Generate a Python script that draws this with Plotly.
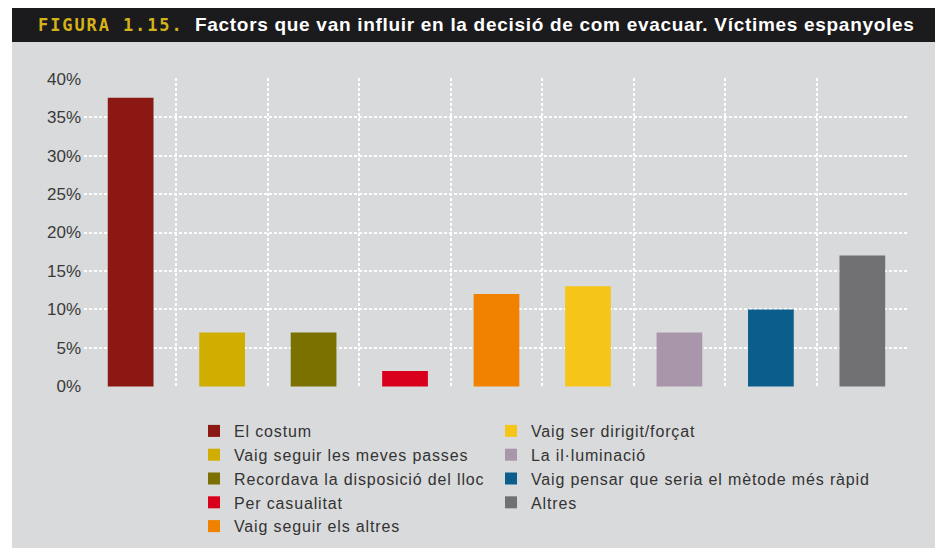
import plotly.graph_objects as go

categories = [
    "El costum",
    "Vaig seguir les meves passes",
    "Recordava la disposició del lloc",
    "Per casualitat",
    "Vaig seguir els altres",
    "Vaig ser dirigit/forçat",
    "La il·luminació",
    "Vaig pensar que seria el mètode més ràpid",
    "Altres",
]
values = [37.5, 7, 7, 2, 12, 13, 7, 10, 17]
colors = ["#8B1813", "#D0AE00", "#7B7100", "#D8001B", "#F08200",
          "#F5C518", "#AA96AB", "#0B5E8C", "#717173"]
y_ticks = [0, 5, 10, 15, 20, 25, 30, 35, 40]
y_tick_labels = ["0%", "5%", "10%", "15%", "20%", "25%", "30%", "35%", "40%"]

# page offset (body margin of the html page)
OFF = 8
PW, PH = 943, 548
W, H = PW - OFF, PH - OFF
L, R, T, B = 84, 909, 78, 387  # plot area in page pixels


def px(x):
    return (x - L) / (R - L)


def py(y):
    return (B - y) / (B - T)


fig = go.Figure()
for i, (c, v, col) in enumerate(zip(categories, values, colors)):
    fig.add_trace(go.Bar(
        x=[c], y=[v],
        name='<span style="letter-spacing:0.85px">' + c + "</span>",
        marker=dict(color=col, line=dict(width=0)),
        width=0.5, legend="legend" if i < 5 else "legend2",
        hovertemplate=c + ": %{y}%<extra></extra>",
    ))

gray = "#D9DADB"
shapes = [
    dict(type="rect", xref="paper", yref="paper", x0=px(0), x1=px(PW + 5), y0=py(0), y1=py(PH + 5),
         fillcolor="white", line_width=0, layer="below"),
    dict(type="rect", xref="paper", yref="paper", x0=px(12), x1=px(PW + 5), y0=py(42), y1=py(PH + 5),
         fillcolor=gray, line_width=0, layer="below"),
    dict(type="rect", xref="paper", yref="paper", x0=px(12), x1=px(PW + 5), y0=py(0), y1=py(42),
         fillcolor="#1B1A1C", line_width=0, layer="below"),
]

annotations = [
    dict(xref="paper", yref="paper", x=px(36), y=py(25), xanchor="left", yanchor="middle",
         showarrow=False,
         text='<span style="letter-spacing:1.9px"><b>FIGURA 1.15.</b></span>',
         font=dict(family="DejaVu Sans Mono", size=17, color="#D4B21A")),
    dict(xref="paper", yref="paper", x=px(193), y=py(24), xanchor="left", yanchor="middle",
         showarrow=False,
         text='<span style="letter-spacing:0.7px"><b>Factors que van influir en la decisió de com evacuar. Víctimes espanyoles</b></span>',
         font=dict(family="Liberation Sans", size=19, color="white")),
]

legend_font = dict(family="Liberation Sans", size=16, color="#333333")

fig.update_layout(
    width=W, height=H,
    margin=dict(l=L - OFF, r=PW - R, t=T - OFF, b=PH - B, pad=0, autoexpand=False),
    paper_bgcolor="white", plot_bgcolor=gray,
    barmode="overlay",
    shapes=shapes, annotations=annotations,
    showlegend=True,
    legend=dict(x=px(194), y=py(414), xanchor="left", yanchor="top", bgcolor="rgba(0,0,0,0)",
                font=legend_font, itemclick=False, tracegroupgap=0),
    legend2=dict(x=px(491), y=py(414), xanchor="left", yanchor="top", bgcolor="rgba(0,0,0,0)",
                 font=legend_font, itemclick=False, tracegroupgap=0),
    xaxis=dict(type="category", categoryorder="array", categoryarray=categories,
               tickson="boundaries", showgrid=True, gridcolor="white", gridwidth=2,
               griddash="3px,2px", showticklabels=False, ticks="", showline=False,
               zeroline=False, range=[-0.51, len(categories) - 0.49]),
    yaxis=dict(range=[-0.08, 40.08], tickmode="array", tickvals=y_ticks, ticktext=y_tick_labels,
               showgrid=True, gridcolor="white", gridwidth=2, griddash="3px,2px", zeroline=False,
               showline=False, ticks="", ticklabelstandoff=2,
               tickfont=dict(family="Liberation Sans", size=17, color="#3A3A3A")),
)

fig.write_html("out.html")
